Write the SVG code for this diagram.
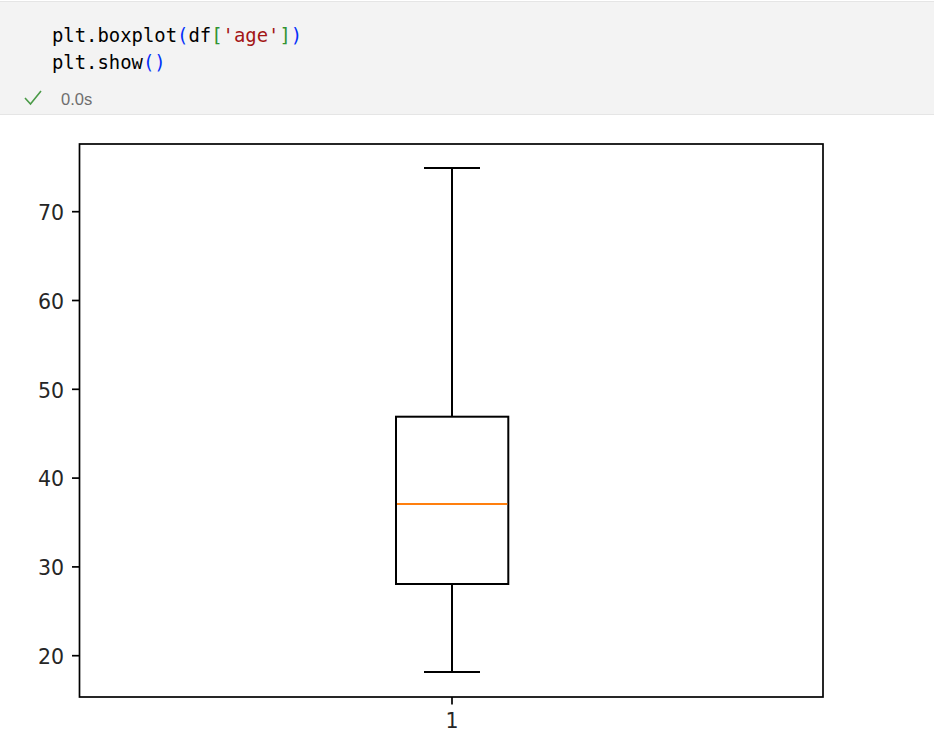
<svg xmlns="http://www.w3.org/2000/svg" width="934" height="754" viewBox="0 0 934 754">
<style>
.code{font-family:"DejaVu Sans Mono","Liberation Mono",monospace;font-size:18.9px;fill:#000}
.blue{fill:#0431fa}.green{fill:#319331}.str{fill:#a31515}
.tick{font-family:"DejaVu Sans",sans-serif;font-size:20.5px;fill:#262626}
.ln{stroke:#000;stroke-width:2;fill:none}
.tk{stroke:#000;stroke-width:1.7}
</style>
<rect x="0" y="0" width="934" height="754" fill="#fff"/>
<g id="cell">
<rect x="0" y="1.5" width="934" height="113" fill="#f3f3f3"/>
<line x1="0" y1="1.5" x2="934" y2="1.5" stroke="#e5e5e5" stroke-width="1"/>
<line x1="0" y1="114.5" x2="934" y2="114.5" stroke="#e5e5e5" stroke-width="1"/>
<text class="code" x="52" y="42">plt.boxplot<tspan class="blue">(</tspan>df<tspan class="green">[</tspan><tspan class="str">'age'</tspan><tspan class="green">]</tspan><tspan class="blue">)</tspan></text>
<text class="code" x="52" y="69">plt.show<tspan class="blue">()</tspan></text>
<polyline points="25,98 30.5,104 41,91" fill="none" stroke="#4a9a47" stroke-width="1.6"/>
<text x="61" y="104.5" font-family="'Liberation Sans',Arial,sans-serif" font-size="16.5" fill="#6e6e6e">0.0s</text>
</g>
<g id="axes">
<rect x="79.5" y="144" width="743.5" height="553" fill="none" stroke="#000" stroke-width="1.7"/>
<g id="yticks">
<line class="tk" x1="72" y1="655.7" x2="79.5" y2="655.7"/>
<line class="tk" x1="72" y1="566.9" x2="79.5" y2="566.9"/>
<line class="tk" x1="72" y1="478.1" x2="79.5" y2="478.1"/>
<line class="tk" x1="72" y1="389.3" x2="79.5" y2="389.3"/>
<line class="tk" x1="72" y1="300.5" x2="79.5" y2="300.5"/>
<line class="tk" x1="72" y1="211.7" x2="79.5" y2="211.7"/>
<text class="tick" x="64" y="664" text-anchor="end">20</text>
<text class="tick" x="64" y="575.2" text-anchor="end">30</text>
<text class="tick" x="64" y="486.4" text-anchor="end">40</text>
<text class="tick" x="64" y="397.6" text-anchor="end">50</text>
<text class="tick" x="64" y="308.8" text-anchor="end">60</text>
<text class="tick" x="64" y="220" text-anchor="end">70</text>
</g>
<g id="xticks">
<line class="tk" x1="452" y1="697" x2="452" y2="704.5"/>
<text class="tick" x="452" y="728" text-anchor="middle">1</text>
</g>
</g>
<g id="boxplot">
<rect class="ln" x="396" y="416.7" width="112.3" height="167.3"/>
<line class="ln" x1="452" y1="416.7" x2="452" y2="168"/>
<line class="ln" x1="424" y1="168" x2="480" y2="168"/>
<line class="ln" x1="452" y1="584" x2="452" y2="672"/>
<line class="ln" x1="424" y1="672" x2="480" y2="672"/>
<line x1="397" y1="504" x2="507.3" y2="504" stroke="#ff7f0e" stroke-width="2"/>
</g>
</svg>
